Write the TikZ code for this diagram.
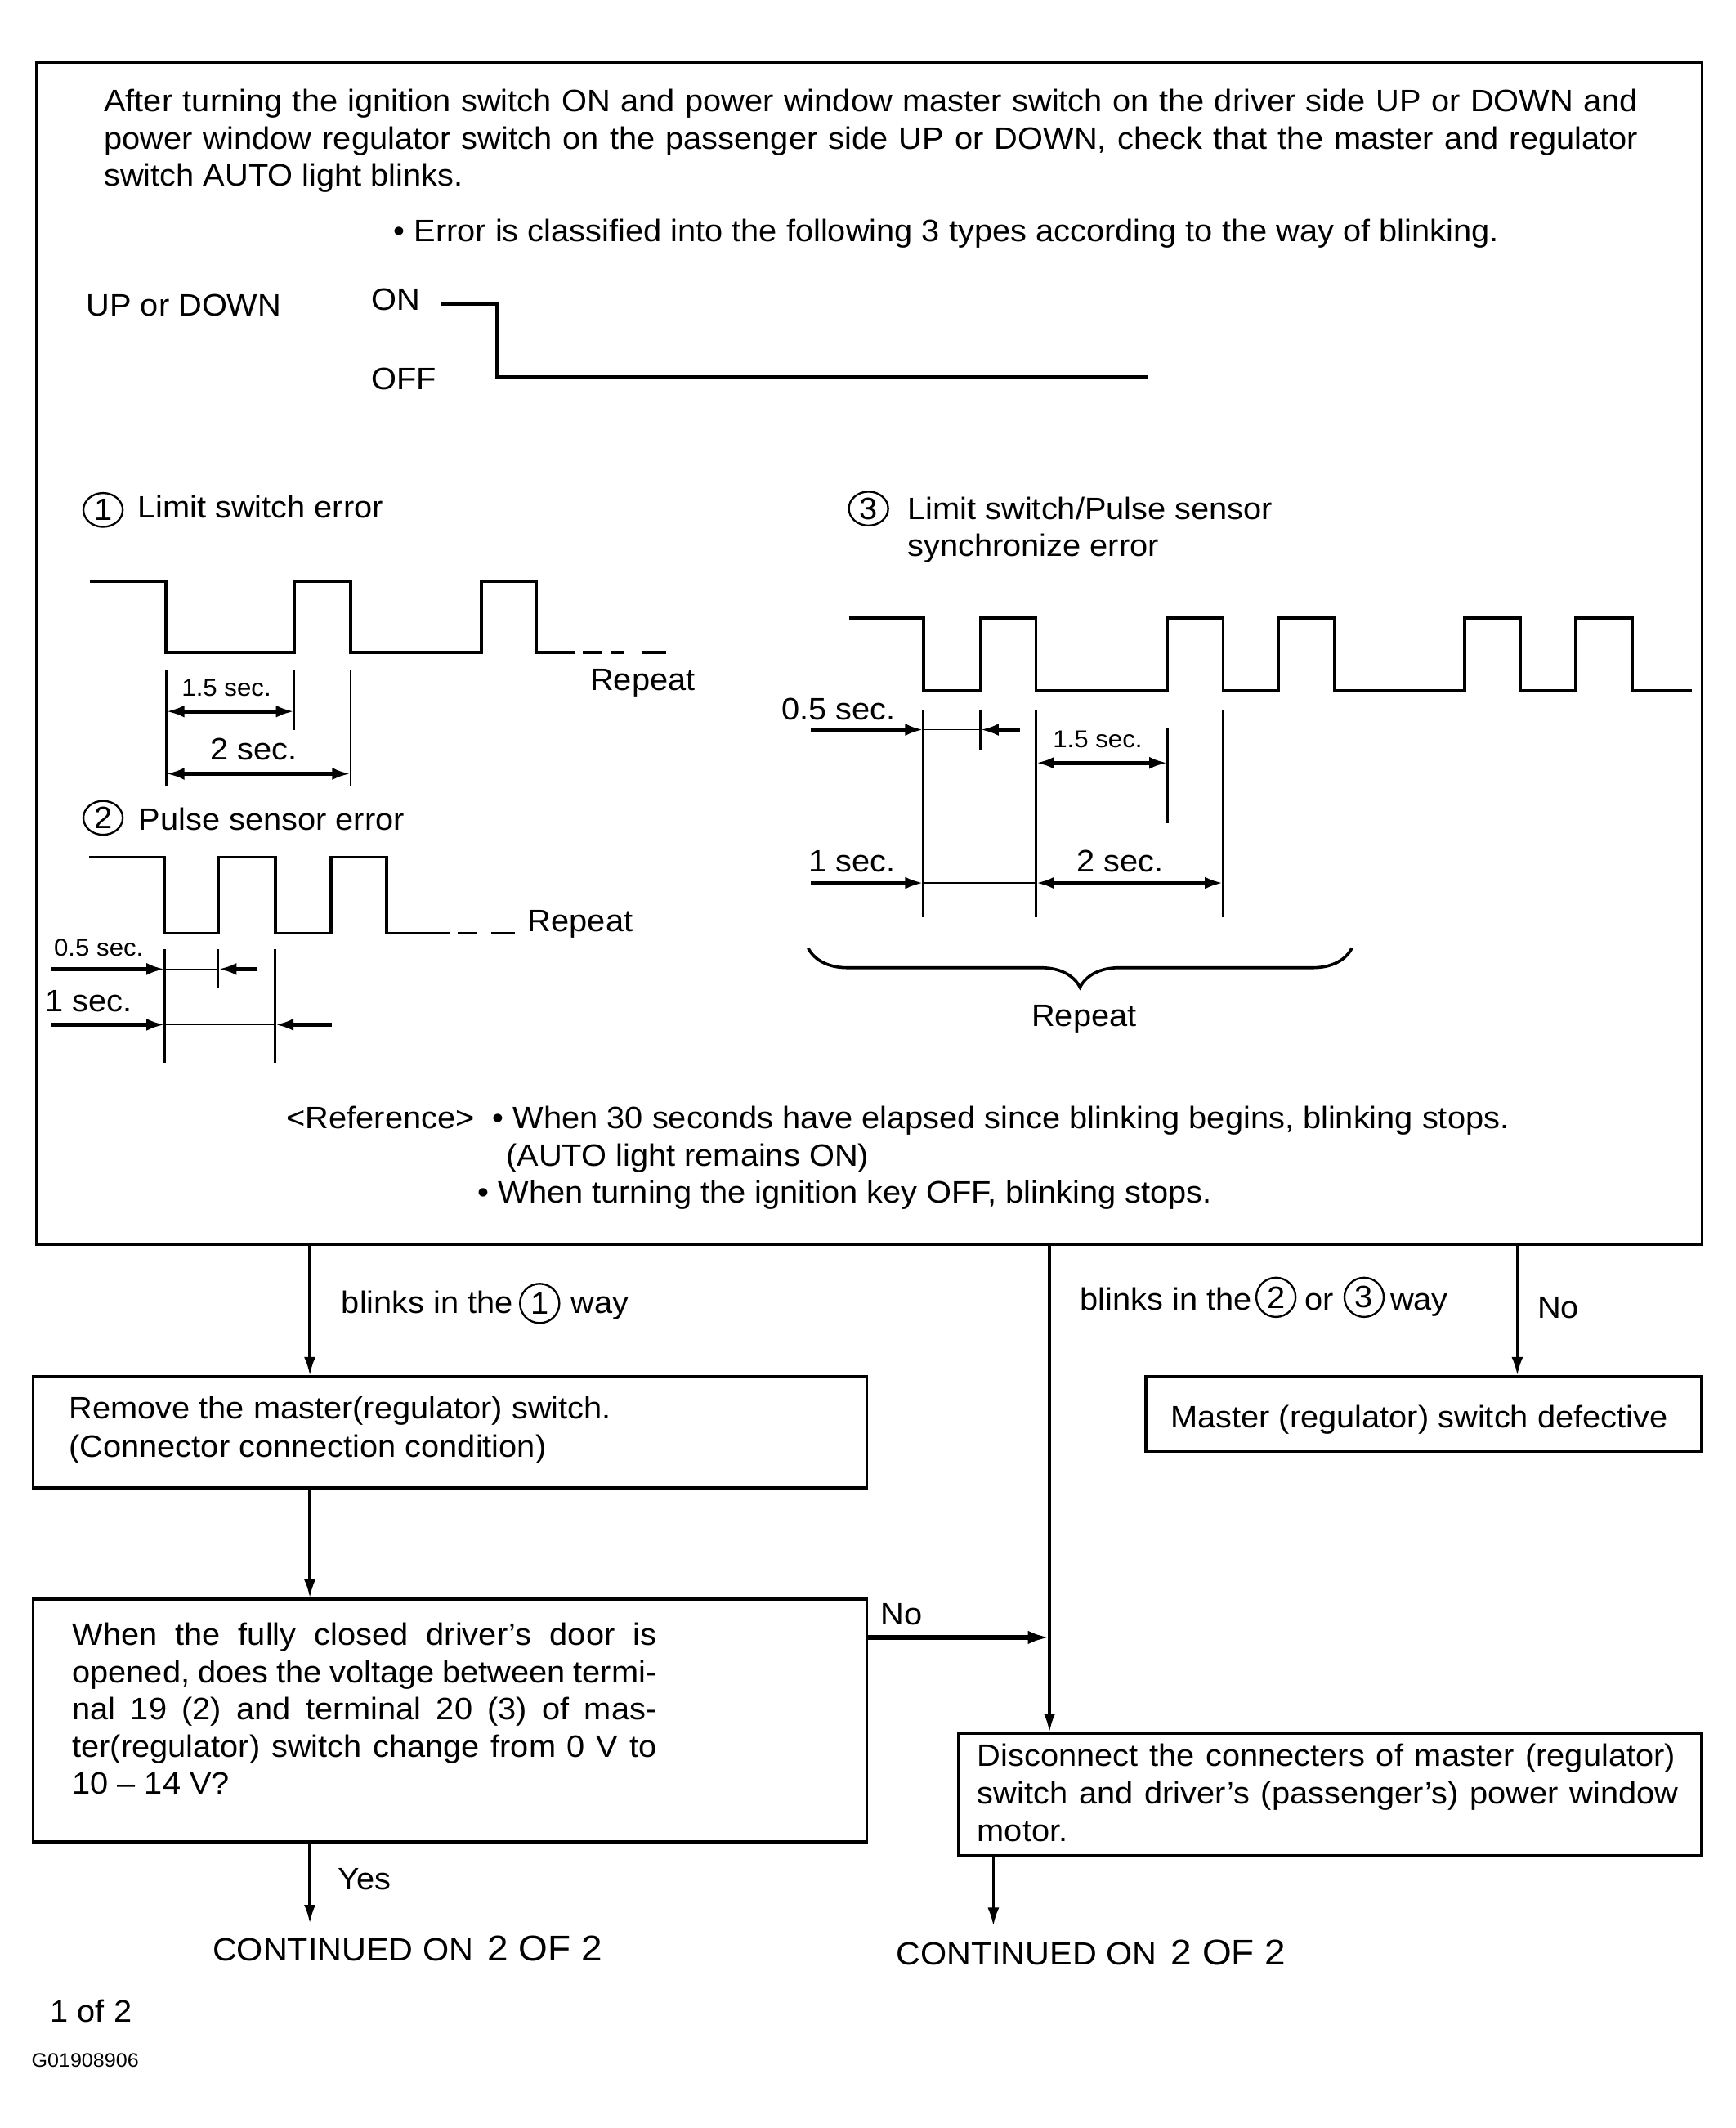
\documentclass[tikz,border=0pt]{standalone}
\usepackage{fontspec}
\setmainfont[FakeStretch=1.05]{Liberation Sans}
\usetikzlibrary{arrows.meta,decorations.pathreplacing,shapes.geometric}
\newcommand{\mainsz}{\fontsize{13}{15.6}\selectfont}
\newcommand{\smallsz}{\fontsize{10.2}{12}\selectfont}
\newcommand{\tinysz}{\fontsize{8.2}{10}\selectfont}
\begin{document}
\begin{tikzpicture}[x=0.02cm,y=-0.02cm,
  tx/.style={anchor=base west, inner sep=0pt, font=\mainsz},
  txs/.style={anchor=base, inner sep=0pt, font=\smallsz},
  txc/.style={anchor=base, inner sep=0pt, font=\mainsz},
  box/.style={draw, line width=1.1pt, inner sep=0pt},
  wave/.style={line width=1.3pt, line join=miter},
  dimv/.style={line width=0.9pt},
  dimthin/.style={line width=0.5pt},
  dimarr/.style={line width=1.7pt, -{Latex[length=0.27cm,width=0.18cm]}},
  dimboth/.style={line width=1.7pt, {Latex[length=0.27cm,width=0.18cm]}-{Latex[length=0.27cm,width=0.18cm]}},
  flow/.style={line width=1.1pt, -{Latex[length=0.27cm,width=0.17cm]}},
  flowthick/.style={line width=1.8pt, -{Latex[length=0.32cm,width=0.2cm]}},
  cnum/.style={ellipse, draw, line width=0.8pt, inner sep=0pt, minimum width=0.58cm, minimum height=0.5cm, font=\fontsize{13}{13}\selectfont},
  cnumr/.style={circle, draw, line width=0.8pt, inner sep=0pt, minimum size=0.58cm, font=\mainsz},
]
\useasboundingbox (0,0) rectangle (1280,1569);
\fill[white] (0,0) rectangle (1280,1569);

% ---------- main box ----------
\node[box, minimum width=24.58cm, minimum height=17.44cm] (top) at (641,482) {};

\node[tx] (p1) at (76.4,82.4) {\makebox[22.63cm][s]{After turning the ignition switch ON and power window master switch on the driver side UP or DOWN and}};
\node[tx] (p2) at (76.4,109.7) {\makebox[22.63cm][s]{power window regulator switch on the passenger side UP or DOWN, check that the master and regulator}};
\node[tx] (p3) at (76.4,137) {switch AUTO light blinks.};
\node[tx] (p4) at (290,178) {• Error is classified into the following 3 types according to the way of blinking.};

\node[tx] (ud) at (63.3,233) {UP or DOWN};
\node[tx] (on) at (273.6,229) {ON};
\node[tx] (off) at (273.6,287.3) {OFF};
\draw[wave, line width=1.35pt] (325,224.5) -- (366.5,224.5) -- (366.5,278) -- (846,278);

% ---------- wave 1 ----------
\node[cnum] (n1) at (76,376) {1};
\node[tx] (h1) at (101,382) {Limit switch error};
\draw[wave] (66.6,428.5) -- (122.5,428.5) -- (122.5,481) -- (217,481) -- (217,428.5) -- (258.5,428.5) -- (258.5,481) -- (355,481) -- (355,428.5) -- (395.5,428.5) -- (395.5,481) -- (424,481);
\draw[wave] (430,481) -- (444,481) (450,481) -- (460,481) (473,481) -- (491,481);
\draw[dimv] (122.5,494) -- (122.5,579) (217,494) -- (217,538) (258.5,494) -- (258.5,579);
\draw[dimboth] (122.5,524.5) -- (217,524.5);
\draw[dimboth] (122.5,570.5) -- (258.5,570.5);
\node[txs] (w1a) at (167,513) {1.5 sec.};
\node[txc] (w1b) at (187,560.5) {2 sec.};
\node[tx] (w1r) at (435,509) {Repeat};

% ---------- wave 2 ----------
\node[cnum] (n2) at (76,603) {2};
\node[tx] (h2) at (102,612) {Pulse sensor error};
\draw[wave] (66,632) -- (121.5,632) -- (121.5,688) -- (161,688) -- (161,632) -- (203,632) -- (203,688) -- (244,688) -- (244,632) -- (285,632) -- (285,688) -- (331.5,688);
\draw[wave] (337.5,688) -- (351.5,688) (362.5,688) -- (379.5,688);
\node[tx] (w2r) at (389,687) {Repeat};
\draw[dimv] (121.5,700) -- (121.5,783.5) (161,700) -- (161,729) (203,700) -- (203,783.5);
\node[txs, anchor=base west] (w2a) at (39.5,705) {0.5 sec.};
\draw[dimarr] (38,714.5) -- (121.5,714.5);
\draw[dimthin] (121.5,714.5) -- (161,714.5);
\draw[dimarr] (189.5,714.5) -- (161,714.5);
\node[tx] (w2b) at (33,746) {1 sec.};
\draw[dimarr] (38,755.5) -- (121.5,755.5);
\draw[dimthin] (121.5,755.5) -- (203,755.5);
\draw[dimarr] (244.5,755.5) -- (203,755.5);

% ---------- wave 3 ----------
\node[cnum] (n3) at (640.5,375) {3};
\node[tx] (h3) at (669,383) {Limit switch/Pulse sensor};
\node[tx] (h3b) at (669,410) {synchronize error};
\draw[wave] (626,455.5) -- (681,455.5) -- (681,509) -- (723,509) -- (723,455.5) -- (764,455.5) -- (764,509) -- (861,509) -- (861,455.5) -- (902,455.5) -- (902,509) -- (943,509) -- (943,455.5) -- (984,455.5) -- (984,509) -- (1080,509) -- (1080,455.5) -- (1121,455.5) -- (1121,509) -- (1162,509) -- (1162,455.5) -- (1204,455.5) -- (1204,509) -- (1248,509);
\draw[dimv] (681,523) -- (681,676) (723,523) -- (723,553) (764,523) -- (764,676) (861,537) -- (861,607) (902,523) -- (902,676);
\node[tx] (w3a) at (576,530.5) {0.5 sec.};
\draw[dimarr] (598,538) -- (681,538);
\draw[dimthin] (681,538) -- (723,538);
\draw[dimarr] (752,538) -- (723,538);
\node[txs] (w3b) at (809.5,551) {1.5 sec.};
\draw[dimboth] (764,562.5) -- (861,562.5);
\node[tx] (w3c) at (596,643) {1 sec.};
\draw[dimarr] (598,651) -- (681,651);
\draw[dimthin] (681,651) -- (764,651);
\draw[dimboth] (764,651) -- (902,651);
\node[txc] (w3d) at (826,643) {2 sec.};
\draw[line width=1.25pt, decorate, decoration={brace, amplitude=0.58cm}] (997,699) -- (596,699);
\node[txc] (rep3) at (799.5,757) {Repeat};

% ---------- reference ----------
\node[tx] (r1) at (211,832) {<Reference>};
\node[tx] (r2) at (363,832) {• When 30 seconds have elapsed since blinking begins, blinking stops.};
\node[tx] (r3) at (373,860) {(AUTO light remains ON)};
\node[tx] (r4) at (352,887) {• When turning the ignition key OFF, blinking stops.};

% ---------- flow boxes ----------
\node[box, minimum width=12.3cm, minimum height=1.64cm] (R) at (332,1056) {};
\node[tx] (Rt1) at (50.6,1046) {Remove the master(regulator) switch.};
\node[tx] (Rt2) at (50.6,1074.5) {(Connector connection condition)};

\node[box, minimum width=8.2cm, minimum height=1.1cm] (M) at (1050,1042.5) {};
\node[tx] (Mt) at (863,1053) {Master (regulator) switch defective};

\node[box, minimum width=12.3cm, minimum height=3.58cm] (Q) at (332,1268.5) {};
\node[tx] (Q1) at (53,1213) {\makebox[8.62cm][s]{When the fully closed driver’s door is}};
\node[tx] (Q2) at (53,1240.5) {\makebox[8.62cm][s]{opened, does the voltage between termi-}};
\node[tx] (Q3) at (53,1268) {\makebox[8.62cm][s]{nal 19 (2) and terminal 20 (3) of mas-}};
\node[tx] (Q4) at (53,1295.5) {\makebox[8.62cm][s]{ter(regulator) switch change from 0 V to}};
\node[tx] (Q5) at (53,1323) {10 – 14 V?};

\node[box, minimum width=10.97cm, minimum height=1.8cm] (D) at (980.75,1323) {};
\node[tx] (D1) at (720.4,1302) {\makebox[10.3cm][s]{Disconnect the connecters of master (regulator)}};
\node[tx] (D2) at (720.4,1330) {\makebox[10.34cm][s]{switch and driver’s (passenger’s) power window}};
\node[tx] (D3) at (720.4,1358) {motor.};

% ---------- labels ----------
\node[tx] (L1a) at (251.6,968.5) {blinks in the};
\node[cnumr] (c1f) at (398,961) {1};
\node[tx] (L1b) at (420.6,968.5) {way};
\node[tx] (L2a) at (796.4,966) {blinks in the};
\node[cnumr] (c2f) at (941,956.5) {2};
\node[tx] (L2b) at (962,966) {or};
\node[cnumr] (c3f) at (1006,956.5) {3};
\node[tx] (L2c) at (1025,966) {way};
\node[tx] (No1) at (1133.6,972) {No};
\node[tx] (No2) at (649,1198) {No};
\node[tx] (Yes) at (249,1393) {Yes};

\node[anchor=base, inner sep=0pt] (cont1) at (300.5,1446) {\fontsize{13.5}{16}\selectfont CONTINUED ON\hspace{6pt}{\fontsize{15}{18}\selectfont 2 OF 2}};
\node[anchor=base, inner sep=0pt] (cont2) at (804.5,1449) {\fontsize{13.5}{16}\selectfont CONTINUED ON\hspace{6pt}{\fontsize{15}{18}\selectfont 2 OF 2}};
\node[tx] (pg) at (36.8,1491) {1 of 2};
\node[anchor=base west, inner sep=0pt, font=\tinysz] (gid) at (22.9,1524.3) {G01908906};

% ---------- connectors ----------
\coordinate (xA) at (228.5,0);
\coordinate (xB) at (774,0);
\coordinate (xC) at (1119,0);
\coordinate (xD) at (732.6,0);
\coordinate (yN) at (0,1207.3);
\coordinate (e1) at (228.5,1418);
\coordinate (e2) at (732.6,1420);
\draw[flow] (top.south -| xA) -- (R.north -| xA);
\draw[flow] (top.south -| xC) -- (M.north -| xC);
\draw[flow] (top.south -| xB) -- (D.north -| xB);
\draw[flow] (R.south -| xA) -- (Q.north -| xA);
\draw[flowthick] (Q.east |- yN) -- (xB |- yN);
\draw[flow] (Q.south -| xA) -- (e1);
\draw[flow] (D.south -| xD) -- (e2);
\end{tikzpicture}
\end{document}
